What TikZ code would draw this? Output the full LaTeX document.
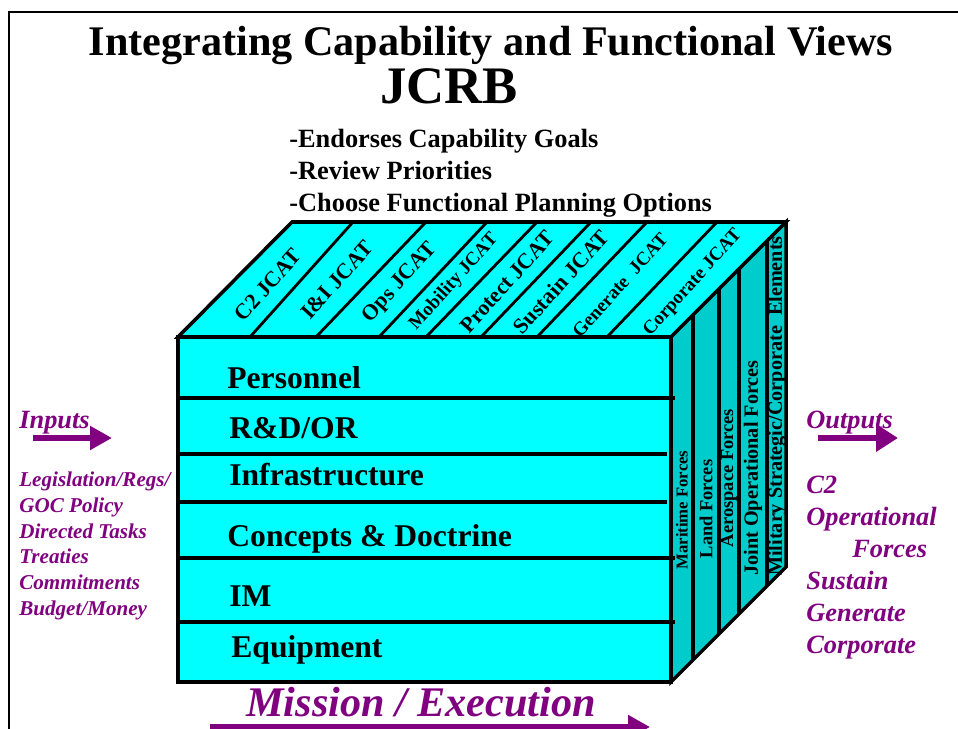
\documentclass[tikz,border=0pt]{standalone}
\usepackage{fontspec}
\setmainfont{Liberation Serif}
\usepackage{tikz}
\usetikzlibrary{arrows.meta}
\usepackage{xcolor}
\definecolor{facecyan}{RGB}{0,255,255}
\definecolor{sideteal}{RGB}{0,204,204}
\definecolor{plum}{RGB}{128,0,128}

\begin{document}
\begin{tikzpicture}[x=0.2mm,y=-0.2mm,line join=miter,inner sep=0pt,
  edge/.style={line width=2pt},
  rowlabel/.style={anchor=base west,font=\bfseries\fontsize{18}{20}\selectfont},
  jcat/.style={rotate=48,font=\bfseries\fontsize{12.5}{14}\selectfont},
  jcatsmall/.style={jcat,font=\bfseries\fontsize{10.8}{12}\selectfont},
  forces/.style={rotate=90,font=\bfseries\fontsize{10.5}{12}\selectfont},
  inlist/.style={anchor=base west,text=plum,font=\bfseries\itshape\fontsize{12}{14}\selectfont},
  outlist/.style={anchor=base west,text=plum,font=\bfseries\itshape\fontsize{15}{17}\selectfont},
  fatarrow/.style={plum,line width=3.4pt,-{Triangle[length=12.5pt,width=13pt]}}]
\useasboundingbox (0,0) rectangle (958,729);
% frame
\draw[line width=1.2pt] (9,729) -- (9,12) -- (958,12);

% headings
\node[anchor=base,font=\bfseries\fontsize{24}{26}\selectfont] (title) at (491,56) {Integrating Capability and Functional Views};
\node[anchor=base,font=\bfseries\fontsize{30}{32}\selectfont] (jcrb) at (449,104) {JCRB};
\node[anchor=base west,font=\bfseries\fontsize{15}{17}\selectfont] (goals) at (289,148) {-Endorses Capability Goals};
\node[anchor=base west,font=\bfseries\fontsize{15}{17}\selectfont] (prio) at (289,180) {-Review Priorities};
\node[anchor=base west,font=\bfseries\fontsize{15}{17}\selectfont] (opts) at (289,212) {-Choose Functional Planning Options};

% the cube
\filldraw[edge,fill=facecyan] (178,337) -- (292,222) -- (786,222) -- (671,337) -- cycle;
\filldraw[edge,fill=sideteal] (671,337) -- (786,222) -- (786,567) -- (671,682) -- cycle;
\filldraw[edge,fill=facecyan] (178,337) rectangle (671,682);

% front rows
\draw[edge] (178,398) -- (675,398);
\draw[edge] (178,454) -- (667,454);
\draw[edge] (178,502) -- (667,502);
\draw[edge] (178,558) -- (675,558);
\draw[edge] (178,622) -- (675,622);
\node[rowlabel] (pers) at (227,389) {Personnel};
\node[rowlabel] (rdor) at (229,439) {R\&D/OR};
\node[rowlabel] (infra) at (229,486) {Infrastructure};
\node[rowlabel] (cd) at (227,547) {Concepts \& Doctrine};
\node[rowlabel] (im) at (229,607) {IM};
\node[rowlabel] (equip) at (231,658) {Equipment};

% top strips
\draw[line width=1.6pt] (250,337) -- (353,222);
\draw[line width=1.6pt] (316,337) -- (426,222);
\draw[line width=1.6pt] (379,337) -- (487,222);
\draw[line width=1.6pt] (426,337) -- (537,222);
\draw[line width=1.6pt] (481,337) -- (591,222);
\draw[line width=1.6pt] (537,337) -- (647,222);
\draw[line width=1.6pt] (607,337) -- (717,222);
\node[jcat] (c2) at (268,285) {C2 JCAT};
\node[jcat] (ii) at (337,280) {I\&I JCAT};
\node[jcat] (ops) at (400,283) {Ops JCAT};
\node[jcatsmall] (mob) at (454,282) {Mobility JCAT};
\node[jcat] (prot) at (507,282) {Protect JCAT};
\node[jcat] (sus) at (561,282) {Sustain JCAT};
\node[jcatsmall] (gen) at (620,285) {Generate\ \ JCAT};
\node[jcatsmall] (corp) at (693,283) {Corporate JCAT};

% side strips
\draw[edge] (693,315) -- (693,660);
\draw[edge] (719,289) -- (719,634);
\draw[edge] (739,269) -- (739,614);
\draw[edge] (767,241) -- (767,586);
\node[forces,font=\bfseries\fontsize{9.5}{11}\selectfont] (mar) at (682,510) {Maritime Forces};
\node[forces] (land) at (706,509) {Land Forces};
\node[forces] (aero) at (729,478) {Aerospace Forces};
\node[forces,font=\bfseries\fontsize{11.5}{13}\selectfont] (joint) at (753,468) {Joint Operational Forces};
\node[forces,font=\bfseries\fontsize{11.5}{13}\selectfont] (mil) at (777,406) {Military Strategic/Corporate\ \ Elements};

% inputs
\node[outlist] (inputs) at (19,429) {Inputs};
\coordinate (in-a) at (33,438);
\coordinate (in-b) at (112,438);
\draw[fatarrow] (in-a) -- (in-b);
\node[inlist] (leg) at (19,487) {Legislation/Regs/};
\node[inlist] (goc) at (19,513) {GOC Policy};
\node[inlist] (dir) at (19,539) {Directed Tasks};
\node[inlist] (treat) at (19,564) {Treaties};
\node[inlist] (comm) at (19,590) {Commitments};
\node[inlist] (budg) at (19,616) {Budget/Money};

% outputs
\node[outlist] (outputs) at (806,429) {Outputs};
\coordinate (out-a) at (818,438);
\coordinate (out-b) at (898,438);
\draw[fatarrow,-{Triangle[length=12.5pt,width=15pt]}] (out-a) -- (out-b);
\node[outlist] (oc2) at (806,494) {C2};
\node[outlist] (oper) at (806,526) {Operational};
\node[outlist] (oforce) at (852,558) {Forces};
\node[outlist] (osus) at (806,590) {Sustain};
\node[outlist] (ogen) at (806,622) {Generate};
\node[outlist] (ocorp) at (806,654) {Corporate};

% mission line
\node[anchor=base,text=plum,font=\bfseries\itshape\fontsize{24}{26}\selectfont] (mission) at (421,717) {Mission / Execution};
\coordinate (ms-a) at (210,727);
\coordinate (ms-b) at (650,727);
\draw[fatarrow,line width=3pt] (ms-a) -- (ms-b);
\end{tikzpicture}
\end{document}
